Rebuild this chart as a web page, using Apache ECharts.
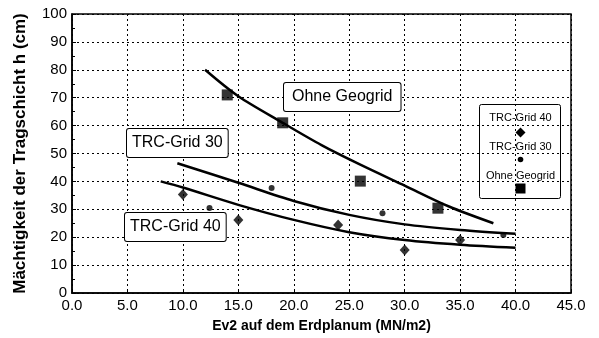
<!DOCTYPE html>
<html>
<head>
<meta charset="utf-8">
<script src="https://cdn.jsdelivr.net/npm/echarts@6/dist/echarts.min.js"></script>
<style>
  html, body { margin: 0; padding: 0; background: #fff; }
  #chart { width: 599px; height: 338px; }
</style>
</head>
<body>
<div id="chart"></div>
<script>
var chartDom = document.getElementById('chart');
var myChart = echarts.init(chartDom);
var option;

// measured points (Ev2, h)
var grid40Points = [[10, 35.3], [15, 26.2], [24, 24.4], [30, 15.4], [35, 19]];
var grid30Points = [[12.4, 30.5], [18, 37.6], [28, 28.6], [38.9, 20.8]];
var ohnePoints = [[14, 71], [19, 61], [26, 40.1], [33, 30.4]];

// fitted curves
var ohneCurve = [[12, 80], [15, 70.5], [19, 61], [22.5, 53], [26, 46], [30, 38.5], [34, 31], [38, 25]];
var grid30Curve = [[9.5, 46.5], [15, 39.5], [20, 33], [25, 28], [30, 24.6], [35, 22.6], [40, 21.2]];
var grid40Curve = [[8, 40], [10, 37.8], [15, 31.6], [20, 26.2], [25, 21.8], [30, 19], [35, 17.3], [40, 16.2]];

var xTitle = 'Ev2 auf dem Erdplanum (MN/m2)';
var yTitle = 'Mächtigkeit der Tragschicht h (cm)';
var seriesNames = ['TRC-Grid 40', 'TRC-Grid 30', 'Ohne Geogrid'];

var font = '"Liberation Sans", Arial, sans-serif';

function boxLabel(text, x, y, pad) {
    return {
        type: 'text',
        left: x,
        top: y,
        z: 10,
        style: {
            text: text,
            font: '16px ' + font,
            fill: '#000',
            backgroundColor: '#fff',
            borderColor: '#000',
            borderWidth: 1,
            borderRadius: 2,
            padding: pad
        }
    };
}

function curve(data) {
    return {
        type: 'line',
        data: data,
        smooth: 0.3,
        symbol: 'none',
        silent: true,
        lineStyle: { color: '#000', width: 2.5 },
        z: 3
    };
}

option = {
    animation: false,
    backgroundColor: '#fff',
    textStyle: { fontFamily: font },
    grid: {
        left: 72,
        right: 28,
        top: 14,
        bottom: 45,
        show: true,
        borderColor: '#000',
        borderWidth: 1.5
    },
    xAxis: {
        type: 'value',
        min: 0,
        max: 45,
        interval: 5,
        name: xTitle,
        nameLocation: 'middle',
        nameGap: 26,
        nameTextStyle: { fontSize: 14, fontWeight: 'bold', color: '#000' },
        axisLine: { lineStyle: { color: '#000', width: 1.5 } },
        axisTick: { show: true, inside: true, length: 4, lineStyle: { color: '#000' } },
        axisLabel: {
            fontSize: 15,
            color: '#000',
            margin: 5,
            formatter: function (v) { return v.toFixed(1); }
        },
        splitLine: { lineStyle: { color: '#000', type: [2, 3], width: 1 } }
    },
    yAxis: {
        type: 'value',
        min: 0,
        max: 100,
        interval: 10,
        name: yTitle,
        nameLocation: 'middle',
        nameGap: 43,
        nameTextStyle: { fontSize: 17, fontWeight: 'bold', color: '#000' },
        axisLine: { show: true, lineStyle: { color: '#000', width: 1.5 } },
        axisTick: { show: true, inside: true, length: 4, lineStyle: { color: '#000' } },
        minorTick: { show: true, splitNumber: 2, length: 3, lineStyle: { color: '#000' } },
        axisLabel: { fontSize: 15, color: '#000', margin: 5 },
        splitLine: { lineStyle: { color: '#000', type: [2, 3], width: 1 } }
    },
    graphic: [
        boxLabel('Ohne Geogrid', 283, 82, [6, 8]),
        boxLabel('TRC-Grid 30', 126, 128, [6, 5]),
        boxLabel('TRC-Grid 40', 124, 212, [6, 5]),
        {
            type: 'group',
            left: 479,
            top: 104,
            z: 10,
            children: [
                {
                    type: 'rect',
                    shape: { x: 0, y: 0, width: 81, height: 94, r: 2 },
                    style: { fill: '#fff', stroke: '#000', lineWidth: 1 }
                },
                { type: 'text', x: 41, y: 13, style: { text: seriesNames[0], font: '11px ' + font, fill: '#000', align: 'center', verticalAlign: 'middle' } },
                { type: 'polygon', shape: { points: [[41, 23], [46, 28], [41, 33], [36, 28]] }, style: { fill: '#000' } },
                { type: 'text', x: 41, y: 42, style: { text: seriesNames[1], font: '11px ' + font, fill: '#000', align: 'center', verticalAlign: 'middle' } },
                { type: 'circle', shape: { cx: 41, cy: 55, r: 2.8 }, style: { fill: '#000' } },
                { type: 'text', x: 41, y: 71, style: { text: seriesNames[2], font: '11px ' + font, fill: '#000', align: 'center', verticalAlign: 'middle' } },
                { type: 'rect', shape: { x: 36, y: 79, width: 10, height: 10 }, style: { fill: '#000' } }
            ]
        }
    ],
    series: [
        curve(ohneCurve),
        curve(grid30Curve),
        curve(grid40Curve),
        {
            name: seriesNames[0],
            type: 'scatter',
            data: grid40Points,
            symbol: 'diamond',
            symbolSize: [10, 11],
            itemStyle: { color: '#000' },
            z: 4
        },
        {
            name: seriesNames[1],
            type: 'scatter',
            data: grid30Points,
            symbol: 'circle',
            symbolSize: 6,
            itemStyle: { color: '#000' },
            z: 4
        },
        {
            name: seriesNames[2],
            type: 'scatter',
            data: ohnePoints,
            symbol: 'rect',
            symbolSize: 11,
            itemStyle: { color: '#000' },
            z: 4
        }
    ]
};

option && myChart.setOption(option);
</script>
</body>
</html>
